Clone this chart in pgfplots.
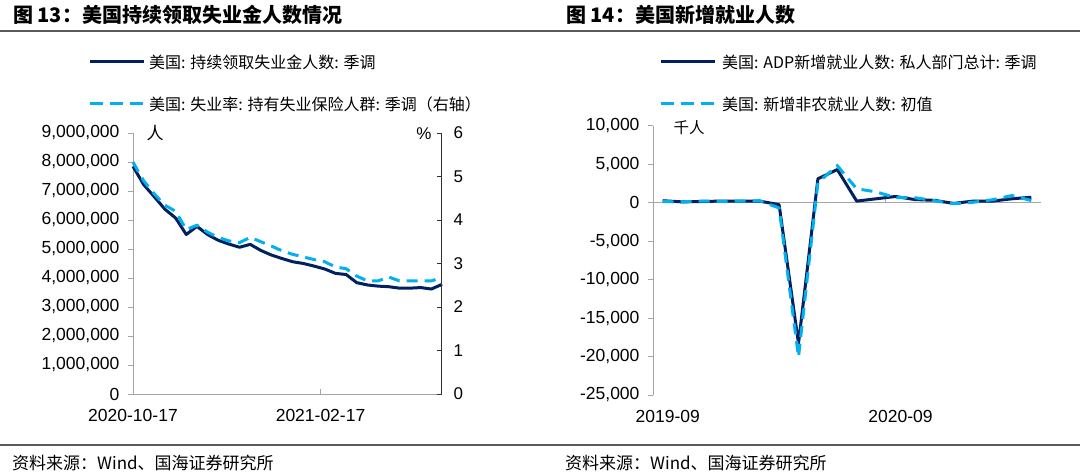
\documentclass[border=0pt]{standalone}
\usepackage{fontspec}
\usepackage{pgfplots}
\pgfplotsset{compat=1.18}
\setmainfont{Liberation Sans}
\newfontfamily\cjk{Noto Sans CJK SC}
\definecolor{navy}{RGB}{0,32,96}
\definecolor{cyanl}{RGB}{0,176,240}
\definecolor{axgray}{RGB}{165,165,165}
\definecolor{rulegray}{RGB}{90,90,90}

\pgfplotstableread{
x y
0 7850000
1 7220000
2 6800000
3 6370000
4 6070000
5 5500000
6 5780000
7 5500000
8 5300000
9 5170000
10 5060000
11 5160000
12 4950000
13 4790000
14 4670000
15 4560000
16 4500000
17 4410000
18 4310000
19 4160000
20 4120000
21 3840000
22 3760000
23 3720000
24 3700000
25 3650000
26 3650000
27 3670000
28 3620000
29 3780000
}\claims

\pgfplotstableread{
x y
0 5.33
1 4.90
2 4.60
3 4.34
4 4.20
5 3.78
6 3.88
7 3.72
8 3.60
9 3.52
10 3.48
11 3.60
12 3.50
13 3.40
14 3.29
15 3.21
16 3.15
17 3.09
18 3.04
19 2.92
20 2.88
21 2.71
22 2.60
23 2.60
24 2.69
25 2.60
26 2.60
27 2.60
28 2.60
29 2.68
}\rate

\pgfplotstableread{
x y
0 250
1 100
2 150
3 200
4 200
5 200
6 -260
7 -18300
8 3100
9 4300
10 200
11 500
12 800
13 400
14 300
15 -100
16 200
17 200
18 500
19 700
}\adp

\pgfplotstableread{
x y
0 130
1 100
2 200
3 150
4 200
5 250
6 -700
7 -20050
8 2600
9 4800
10 1800
11 1400
12 660
13 640
14 250
15 -140
16 50
17 380
18 920
19 270
}\nfp

\begin{document}
\begin{tikzpicture}
\useasboundingbox (0pt,0pt) rectangle (1080pt,-476pt);

% titles and rules
\node[anchor=west, inner sep=0, font=\cjk\bfseries\fontsize{20}{24}\selectfont] at (13pt,-15pt) {图 13：美国持续领取失业金人数情况};
\node[anchor=west, inner sep=0, font=\cjk\bfseries\fontsize{20}{24}\selectfont] at (566pt,-15pt) {图 14：美国新增就业人数};
\draw[rulegray, line width=1.3pt] (0pt,-31pt) -- (1080pt,-31pt);
\draw[rulegray, line width=1.3pt] (0pt,-445pt) -- (1080pt,-445pt);
\node[anchor=west, inner sep=0, font=\cjk\fontsize{17}{20}\selectfont] at (12pt,-463pt) {资料来源：Wind、国海证券研究所};
\node[anchor=west, inner sep=0, font=\cjk\fontsize{17}{20}\selectfont] at (565pt,-463pt) {资料来源：Wind、国海证券研究所};

% legends
\draw[navy, line width=3pt] (90pt,-62pt) -- (144pt,-62pt);
\node[anchor=west, inner sep=0, font=\cjk\fontsize{16}{18}\selectfont] at (149pt,-62pt) {美国: 持续领取失业金人数: 季调};
\draw[cyanl, line width=3pt, dash pattern=on 13pt off 7pt] (90pt,-104pt) -- (144pt,-104pt);
\node[anchor=west, inner sep=0, font=\cjk\fontsize{16}{18}\selectfont] at (149pt,-104pt) {美国: 失业率: 持有失业保险人群: 季调（右轴）};
\draw[navy, line width=3pt] (661pt,-62pt) -- (715pt,-62pt);
\node[anchor=west, inner sep=0, font=\cjk\fontsize{16}{18}\selectfont] at (722pt,-62pt) {美国: ADP新增就业人数: 私人部门总计: 季调};
\draw[cyanl, line width=3pt, dash pattern=on 13pt off 7pt] (661pt,-104pt) -- (715pt,-104pt);
\node[anchor=west, inner sep=0, font=\cjk\fontsize{16}{18}\selectfont] at (722pt,-104pt) {美国: 新增非农就业人数: 初值};

% left chart, left axis
\begin{axis}[
  at={(133pt,-394pt)}, anchor=south west, scale only axis,
  width=309pt, height=261pt,
  xmin=0, xmax=29, ymin=0, ymax=9000000,
  scaled y ticks=false, scaled x ticks=false,
  axis x line*=bottom, axis y line*=left,
  axis line style={-, axgray, line width=1pt},
  tick style={axgray, line width=1pt},
  tick align=outside, major tick length=5pt,
  xtick={0,17.6}, xticklabels={2020-10-17,2021-02-17},
  x tick style={yshift=5pt},
  ytick={0,1000000,2000000,3000000,4000000,5000000,6000000,7000000,8000000,9000000},
  yticklabels={0,{1,000,000},{2,000,000},{3,000,000},{4,000,000},{5,000,000},{6,000,000},{7,000,000},{8,000,000},{9,000,000}},
  ticklabel style={font=\fontsize{17.5}{20}\selectfont},
  yticklabel style={xshift=-5pt},
  xticklabel style={yshift=-7pt},
  clip=false,
]
\addplot[navy, line width=3pt, line join=round] table[x=x,y=y] {\claims};
\end{axis}

% left chart, right axis
\begin{axis}[
  at={(133pt,-394pt)}, anchor=south west, scale only axis,
  width=309pt, height=261pt,
  xmin=0, xmax=29, ymin=0, ymax=6,
  scaled y ticks=false,
  axis y line*=right, axis x line=none,
  axis line style={-, black!80, line width=1pt},
  tick style={black!80, line width=1pt},
  tick align=inside, major tick length=5pt,
  ytick={0,1,2,3,4,5,6}, yticklabels={0,1,2,3,4,5,6},
  ticklabel style={font=\fontsize{17}{20}\selectfont},
  yticklabel style={xshift=8pt},
  clip=false,
]
\addplot[cyanl, line width=3pt, dash pattern=on 11pt off 7pt] table[x=x,y=y] {\rate};
\end{axis}

\node[anchor=center, inner sep=0, font=\cjk\fontsize{17}{20}\selectfont] at (155pt,-133pt) {人};
\node[anchor=center, inner sep=0, font=\fontsize{17}{20}\selectfont] at (424pt,-134pt) {\%};

% right chart
\begin{axis}[
  at={(653pt,-395pt)}, anchor=south west, scale only axis,
  width=388pt, height=269.3pt,
  xmin=-0.5, xmax=19.5, ymin=-25000, ymax=10000,
  scaled y ticks=false, scaled x ticks=false,
  axis y line*=left, axis x line*=bottom,
  y axis line style={-, axgray, line width=1pt},
  x axis line style={draw=none},
  ytick style={axgray, line width=1pt},
  xtick style={draw=none},
  tick align=outside, major tick length=5pt,
  xtick={0,12}, xticklabels={2019-09,2020-09},
  ytick={-25000,-20000,-15000,-10000,-5000,0,5000,10000},
  yticklabels={{-25,000},{-20,000},{-15,000},{-10,000},{-5,000},0,{5,000},{10,000}},
  ticklabel style={font=\fontsize{17.5}{20}\selectfont},
  yticklabel style={xshift=-5pt},
  xticklabel style={yshift=-7pt, xshift=5pt},
  clip=false,
]
\draw[axgray, line width=1pt] (axis cs:-0.5,0) -- (axis cs:19.5,0);
\draw[axgray, line width=1pt] (axis cs:11.5,0) -- ([yshift=5pt]axis cs:11.5,0);
\addplot[navy, line width=3pt, line join=round] table[x=x,y=y] {\adp};
\addplot[cyanl, line width=3pt, dash pattern=on 11pt off 7pt] table[x=x,y=y] {\nfp};
\end{axis}
\node[anchor=center, inner sep=0, font=\cjk\fontsize{15.5}{18}\selectfont] at (689pt,-128pt) {千人};

\end{tikzpicture}
\end{document}
